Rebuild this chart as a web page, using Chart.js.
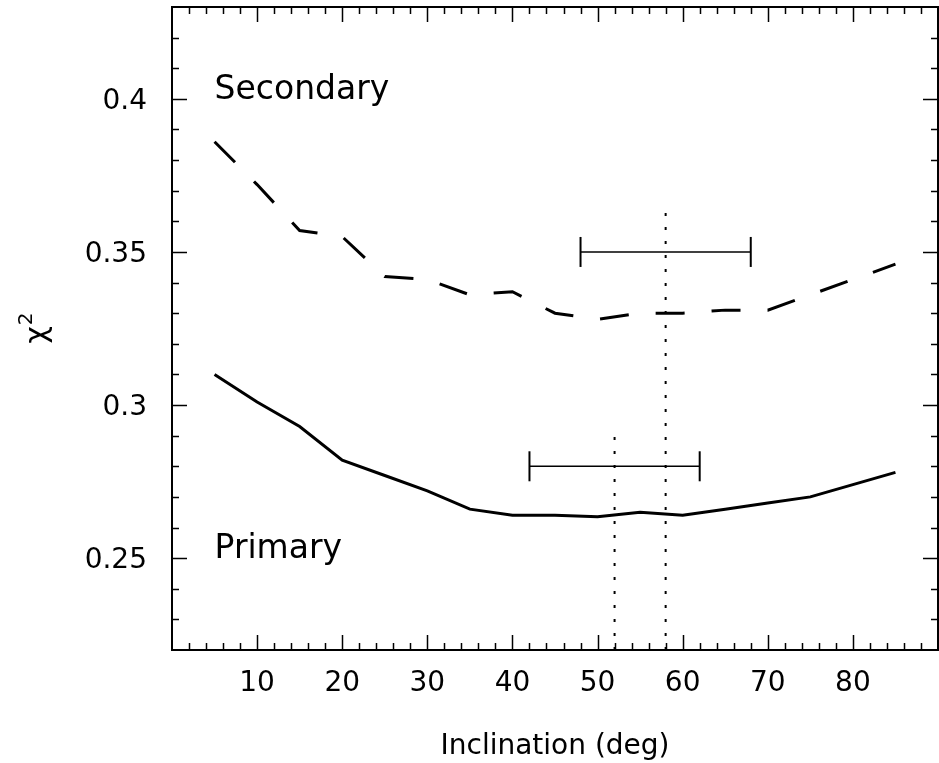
<!DOCTYPE html>
<html>
<head>
<meta charset="utf-8">
<script src="https://cdn.jsdelivr.net/npm/chart.js@4.4.1/dist/chart.umd.min.js"></script>
<style>
  html, body { margin: 0; padding: 0; background: #fff; }
</style>
</head>
<body>
<canvas id="chi2-chart" width="939" height="763"></canvas>
<script>
// Chi-square vs inclination
const inclinations = [5, 10, 15, 20, 25, 30, 35, 40, 45, 50, 55, 60, 65, 70, 75, 80, 85];
const secondaryChi2 = [0.386, 0.372, 0.357, 0.355, 0.342, 0.341, 0.336, 0.337, 0.330, 0.328, 0.330, 0.330, 0.331, 0.331, 0.336, 0.341, 0.346];
const primaryChi2 = [0.310, 0.301, 0.293, 0.282, 0.277, 0.272, 0.266, 0.264, 0.264, 0.2635, 0.265, 0.264, 0.266, 0.268, 0.270, 0.274, 0.278];

// best-fit inclination and range (error bars)
const secondaryRange = [48, 68];
const secondaryRangeChi2 = 0.35;
const secondaryBest = 58;
const secondaryBestTop = 0.363;
const primaryRange = [42, 62];
const primaryRangeChi2 = 0.28;
const primaryBest = 52;
const primaryBestTop = 0.29;

// axes
const xMin = 0, xMax = 90;
const yMin = 0.22, yMax = 0.43;
const xTickValues = [10, 20, 30, 40, 50, 60, 70, 80];
const yTickValues = [0.25, 0.3, 0.35, 0.4];
const xTitle = 'Inclination (deg)';
const yTitle = ['χ', '2'];

// curve labels: text, inclination, chi2 (baseline)
const curveLabels = ['Secondary', 'Primary'];
const curveLabelX = [5, 5];
const curveLabelY = [0.4, 0.25];

const FONT = '"DejaVu Sans"';

function points(xs, ys) {
    return xs.map((x, i) => ({ x: x, y: ys[i] }));
}

function rangeBar(range, y) {
    return {
        data: [{ x: range[0], y: y }, { x: range[1], y: y }],
        borderColor: '#000',
        borderWidth: 1.5,
        pointStyle: 'line',
        pointRotation: 90,
        pointRadius: 15,
        pointBorderWidth: 2,
        pointBorderColor: '#000'
    };
}

function bestLine(x, top) {
    return {
        data: [{ x: x, y: yMin }, { x: x, y: top }],
        borderColor: '#000',
        borderWidth: 2,
        borderDash: [3, 11],
        pointRadius: 0
    };
}

// frame, inward ticks on all four sides, tick labels, titles, curve labels
const frameTicks = {
    id: 'frameTicks',
    afterDatasetsDraw(chart) {
        const { ctx, chartArea: a, scales: { x, y } } = chart;
        ctx.save();
        ctx.strokeStyle = '#000';
        ctx.lineWidth = 1.5;
        ctx.beginPath();
        for (let v = xMin + 2; v < xMax; v += 2) {
            const px = Math.round(x.getPixelForValue(v)) + 0.5;
            const len = v % 10 === 0 ? 15 : 7;
            ctx.moveTo(px, a.bottom); ctx.lineTo(px, a.bottom - len);
            ctx.moveTo(px, a.top); ctx.lineTo(px, a.top + len);
        }
        for (let i = 23; i < 43; i++) {
            const py = Math.round(y.getPixelForValue(i / 100)) + 0.5;
            const len = i % 5 === 0 ? 15 : 7;
            ctx.moveTo(a.left, py); ctx.lineTo(a.left + len, py);
            ctx.moveTo(a.right, py); ctx.lineTo(a.right - len, py);
        }
        ctx.stroke();
        ctx.lineWidth = 2;
        ctx.strokeRect(a.left, a.top, a.width, a.height);

        ctx.fillStyle = '#000';
        ctx.textBaseline = 'alphabetic';

        // tick labels
        ctx.font = '28px ' + FONT;
        ctx.textAlign = 'center';
        xTickValues.forEach(v => ctx.fillText(String(v), x.getPixelForValue(v), a.bottom + 41));
        ctx.textAlign = 'right';
        yTickValues.forEach(v => ctx.fillText(String(v), a.left - 25, y.getPixelForValue(v) + 10));

        // axis titles
        ctx.textAlign = 'center';
        ctx.fillText(xTitle, (a.left + a.right) / 2, a.bottom + 104);

        ctx.save();
        ctx.translate(46, (a.top + a.bottom) / 2);
        ctx.rotate(-Math.PI / 2);
        ctx.textAlign = 'left';
        ctx.font = '30px ' + FONT;
        const w1 = ctx.measureText(yTitle[0]).width;
        ctx.font = '20px ' + FONT;
        const w2 = ctx.measureText(yTitle[1]).width;
        const x0 = -(w1 + w2) / 2;
        ctx.font = '30px ' + FONT;
        ctx.fillText(yTitle[0], x0, 0);
        ctx.font = '20px ' + FONT;
        ctx.fillText(yTitle[1], x0 + w1 + 1, -14);
        ctx.restore();

        // curve labels
        ctx.font = '33px ' + FONT;
        ctx.textAlign = 'left';
        curveLabels.forEach((t, i) => {
            ctx.fillText(t, x.getPixelForValue(curveLabelX[i]), y.getPixelForValue(curveLabelY[i]));
        });
        ctx.restore();
    }
};

new Chart(document.getElementById('chi2-chart'), {
    type: 'line',
    data: {
        datasets: [
            {
                data: points(inclinations, secondaryChi2),
                borderColor: '#000',
                borderWidth: 3,
                borderDash: [29, 27],
                pointRadius: 0,
                tension: 0
            },
            {
                data: points(inclinations, primaryChi2),
                borderColor: '#000',
                borderWidth: 3,
                pointRadius: 0,
                tension: 0
            },
            rangeBar(secondaryRange, secondaryRangeChi2),
            rangeBar(primaryRange, primaryRangeChi2),
            bestLine(secondaryBest, secondaryBestTop),
            bestLine(primaryBest, primaryBestTop)
        ]
    },
    options: {
        responsive: false,
        animation: false,
        devicePixelRatio: 1,
        layout: {
            autoPadding: false,
            padding: { top: 7, right: 1, left: 0, bottom: 0 }
        },
        plugins: {
            legend: { display: false },
            tooltip: { enabled: false }
        },
        scales: {
            x: {
                type: 'linear',
                min: xMin,
                max: xMax,
                grid: { display: false, drawTicks: false },
                border: { display: false },
                ticks: { display: false },
                afterFit: scale => { scale.height = 113; }
            },
            y: {
                type: 'linear',
                min: yMin,
                max: yMax,
                grid: { display: false, drawTicks: false },
                border: { display: false },
                ticks: { display: false },
                afterFit: scale => { scale.width = 172; }
            }
        }
    },
    plugins: [frameTicks]
});
</script>
</body>
</html>
